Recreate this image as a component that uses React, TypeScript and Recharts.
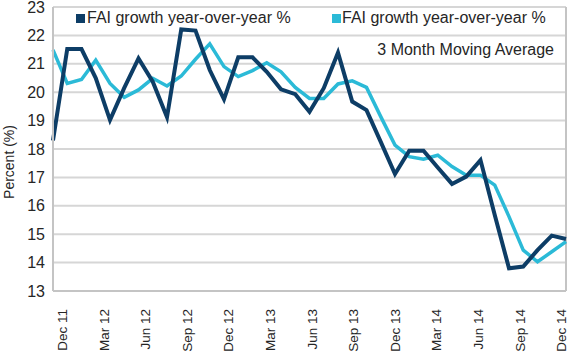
import React from 'react';
import { LineChart, Line, XAxis, YAxis, CartesianGrid, ReferenceLine } from 'recharts';

const months = [
  'Dec 11', 'Jan 12', 'Feb 12', 'Mar 12', 'Apr 12', 'May 12', 'Jun 12', 'Jul 12', 'Aug 12',
  'Sep 12', 'Oct 12', 'Nov 12', 'Dec 12', 'Jan 13', 'Feb 13', 'Mar 13', 'Apr 13', 'May 13',
  'Jun 13', 'Jul 13', 'Aug 13', 'Sep 13', 'Oct 13', 'Nov 13', 'Dec 13', 'Jan 14', 'Feb 14',
  'Mar 14', 'Apr 14', 'May 14', 'Jun 14', 'Jul 14', 'Aug 14', 'Sep 14', 'Oct 14', 'Nov 14', 'Dec 14',
];

// FAI growth year-over-year %
const faiYoy = [
  18.3, 21.52, 21.52, 20.5, 19.02, 20.15, 21.19, 20.37, 19.12,
  22.21, 22.17, 20.78, 19.75, 21.23, 21.23, 20.72, 20.1, 19.93,
  19.31, 20.14, 21.39, 19.67, 19.37, 18.25, 17.12, 17.94, 17.94,
  17.35, 16.77, 17.03, 17.61, 15.68, 13.8, 13.86, 14.44, 14.95, 14.83,
];

// FAI growth year-over-year %, 3 month moving average
const faiMa3 = [
  21.49, 20.31, 20.45, 21.13, 20.31, 19.82, 20.08, 20.49, 20.22,
  20.57, 21.16, 21.7, 20.9, 20.55, 20.76, 21.04, 20.72, 20.17,
  19.78, 19.78, 20.29, 20.4, 20.17, 19.14, 18.14, 17.73, 17.64,
  17.78, 17.38, 17.08, 17.08, 16.73, 15.62, 14.44, 14.03, 14.38, 14.74,
];

const yTicks = [13, 14, 15, 16, 17, 18, 19, 20, 21, 22, 23];

const DARK = '#0d3d66';
const LIGHT = '#2bbad7';
const GRID = '#d6d6d6';
const AXIS = '#c4c4c4';
const TEXT = '#262626';
const FONT = '"Liberation Sans", Arial, sans-serif';

const chartData = months.map((m, i) => ({ month: m, yoy: faiYoy[i], ma3: faiMa3[i] }));

const MonthTick = (props: any) => {
  const { x, y, payload } = props;
  const q = months.indexOf(payload.value) / 3;
  const shift = 14 - q * 1.15;
  return (
    <text
      transform={`translate(${x + shift},${y + 10}) rotate(-90)`}
      textAnchor="end"
      fontSize={13.5}
      fontFamily={FONT}
      fill={TEXT}
    >
      {payload.value}
    </text>
  );
};

// legend drawn as an overlay so it takes no room from the plot
const LegendBox = () => (
  <div style={{ position: 'absolute', left: 0, top: 0, width: 575, height: 70, fontFamily: FONT, color: TEXT, fontSize: 16, pointerEvents: 'none' }}>
    <div style={{ position: 'absolute', left: 76, top: 14, width: 9, height: 9, background: DARK }} />
    <div style={{ position: 'absolute', left: 87, top: 9, whiteSpace: 'nowrap', lineHeight: '18px' }}>
      FAI growth year-over-year %
    </div>
    <div style={{ position: 'absolute', left: 332, top: 14, width: 9, height: 9, background: LIGHT }} />
    <div style={{ position: 'absolute', left: 342, top: 9, whiteSpace: 'nowrap', lineHeight: '18px' }}>
      FAI growth year-over-year %
    </div>
    <div style={{ position: 'absolute', right: 21, top: 41, whiteSpace: 'nowrap', lineHeight: '18px' }}>
      3 Month Moving Average
    </div>
  </div>
);

export default function App() {
  return (
    <div style={{ position: 'absolute', left: 0, top: 0, width: 575, height: 353, background: '#fff' }}>
      <LineChart width={575} height={353} data={chartData} margin={{ top: 7, right: 9, left: 0, bottom: 0 }}>
        <CartesianGrid vertical={false} stroke={GRID} strokeWidth={2} />
        <XAxis
          dataKey="month"
          interval={2}
          tickLine={false}
          axisLine={{ stroke: AXIS, strokeWidth: 2 }}
          height={62}
          tick={<MonthTick />}
        />
        <YAxis
          domain={[13, 23]}
          ticks={yTicks}
          interval={0}
          width={53}
          tickLine={false}
          tickSize={0}
          tickMargin={8}
          axisLine={{ stroke: AXIS, strokeWidth: 2 }}
          tick={{ fontSize: 16, fontFamily: FONT, fill: TEXT }}
          label={{
            content: () => (
              <text
                x={13.5}
                y={162}
                transform="rotate(-90 13.5 162)"
                textAnchor="middle"
                fontSize={14}
                fontFamily={FONT}
                fill={TEXT}
              >
                Percent (%)
              </text>
            ),
          }}
        />
        <ReferenceLine x={months[months.length - 1]} stroke={AXIS} strokeWidth={2} />
        <Line
          type="linear"
          dataKey="ma3"
          stroke={LIGHT}
          strokeWidth={3.5}
          dot={false}
          isAnimationActive={false}
        />
        <Line
          type="linear"
          dataKey="yoy"
          stroke={DARK}
          strokeWidth={4}
          dot={false}
          strokeLinejoin="miter"
          isAnimationActive={false}
        />
      </LineChart>
      <LegendBox />
    </div>
  );
}
